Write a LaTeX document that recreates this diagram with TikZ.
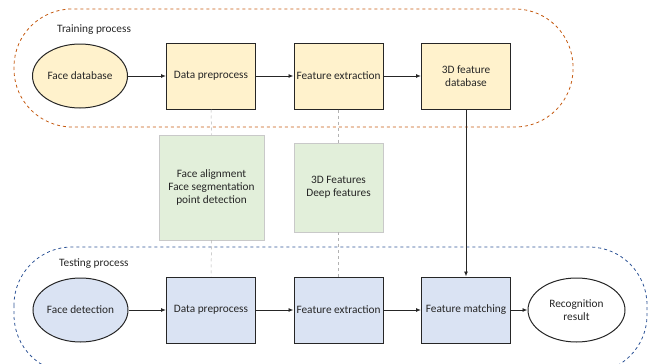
\documentclass[tikz,border=0pt]{standalone}
\usepackage{fontspec}
\setmainfont{Carlito}
\usetikzlibrary{arrows.meta,shapes.geometric}
\definecolor{trainfill}{HTML}{FFF2CC}
\definecolor{testfill}{HTML}{DAE3F3}
\definecolor{notefill}{HTML}{E2EFDA}
\definecolor{noteline}{HTML}{C9C9C9}
\definecolor{trainline}{HTML}{C55A11}
\definecolor{testline}{HTML}{2F5597}
\definecolor{ink}{HTML}{262626}
\begin{document}
\begin{tikzpicture}[x=1pt,y=-1pt,
  every node/.style={font=\fontsize{11.3}{13.3}\selectfont, text=ink, align=center, inner sep=0pt},
  stepbox/.style={draw=ink, line width=1pt, minimum width=89pt, minimum height=66pt},
  blob/.style={ellipse, draw=ink, line width=1pt, minimum width=95pt, minimum height=64pt},
  note/.style={draw=noteline, fill=notefill, line width=0.8pt},
  flow/.style={-{Latex[length=5pt,width=4pt]}, line width=0.9pt, ink},
  guide/.style={draw=gray!60, dashed, line width=0.5pt},
  region/.style={dashed, line width=0.8pt, rounded corners=58pt}
]
\useasboundingbox (0,0) rectangle (656,364);

% process regions
\draw[region, trainline] (14,9) rectangle (573,127);
\draw[region, testline] (14,247) rectangle (647,373);
\node[anchor=west] (trainlbl) at (57,30) {Training process};
\node[anchor=west] (testlbl) at (59,264) {Testing process};

% training row
\node[blob, fill=trainfill] (fdb) at (80,76) {Face database};
\node[stepbox, fill=trainfill] (tpre) at (211,76) {Data preprocess};
\node[stepbox, fill=trainfill] (text) at (338.5,76) {Feature extraction};
\node[stepbox, fill=trainfill] (tdb) at (466,76) {3D feature\\database};

% notes between the rows
\node[note, minimum width=105pt, minimum height=105pt] (n1) at (211.5,187.5)
  {Face alignment\\Face segmentation\\point detection};
\node[note, minimum width=89pt, minimum height=89pt] (n2) at (338.5,187.5)
  {3D Features\\Deep features};

% testing row
\node[blob, fill=testfill] (fdet) at (80.5,310) {Face detection};
\node[stepbox, fill=testfill] (spre) at (211,310) {Data preprocess};
\node[stepbox, fill=testfill] (sext) at (338.5,310) {Feature extraction};
\node[stepbox, fill=testfill] (smatch) at (466,310) {Feature matching};
\node[blob, fill=white, minimum width=97pt] (res) at (576.5,310) {Recognition\\result};

% connectors
\draw[flow] (fdb) -- (tpre);
\draw[flow] (tpre) -- (text);
\draw[flow] (text) -- (tdb);
\draw[flow] (fdet) -- (spre);
\draw[flow] (spre) -- (sext);
\draw[flow] (sext) -- (smatch);
\draw[flow] (smatch) -- (res);
\draw[flow] (tdb) -- (smatch);

\draw[guide] (tpre.south) -- (n1.north);
\draw[guide] (n1.south) -- (spre.north);
\draw[guide] (text.south) -- (n2.north);
\draw[guide] (n2.south) -- (sext.north);
\end{tikzpicture}
\end{document}
